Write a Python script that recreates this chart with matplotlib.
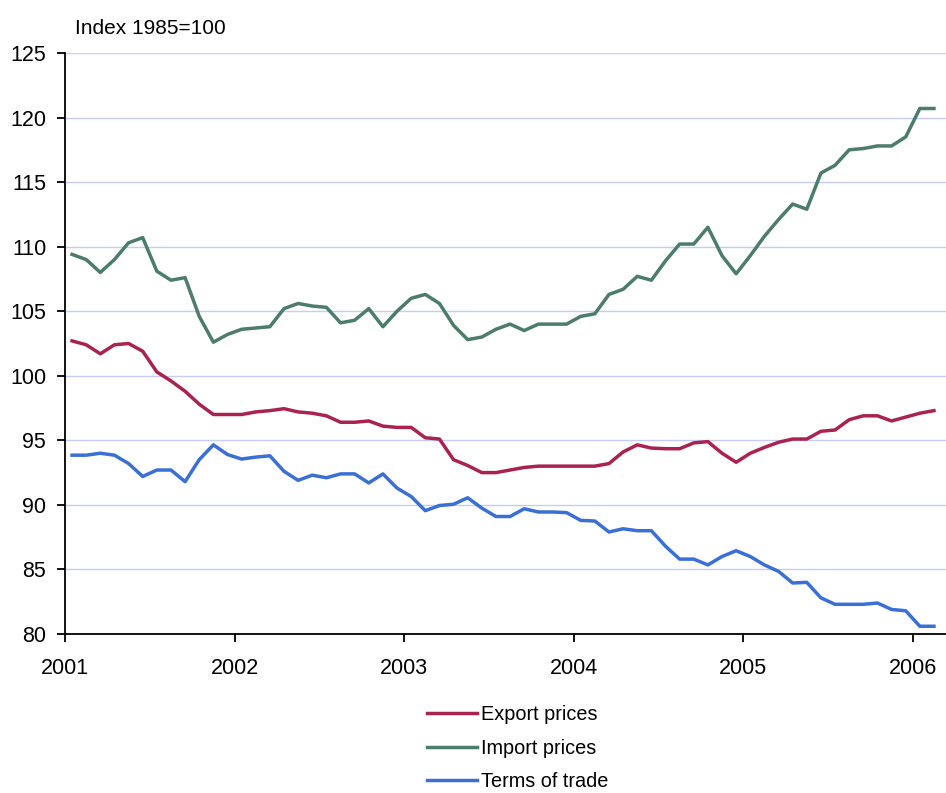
import matplotlib.pyplot as plt
import numpy as np

plt.rcParams['font.family'] = ['Liberation Sans', 'DejaVu Sans']

# monthly index values, Jan 2001 - Feb 2006
export_prices = [102.7, 102.4, 101.7, 102.4, 102.5, 101.9, 100.3, 99.6, 98.8, 97.8, 97.0, 97.0,
                 97.0, 97.2, 97.3, 97.45, 97.2, 97.1, 96.9, 96.4, 96.4, 96.5, 96.1, 96.0,
                 96.0, 95.2, 95.1, 93.5, 93.05, 92.5, 92.5, 92.7, 92.9, 93.0, 93.0, 93.0,
                 93.0, 93.0, 93.2, 94.1, 94.65, 94.4, 94.35, 94.35, 94.8, 94.9, 94.0, 93.3,
                 94.0, 94.45, 94.85, 95.1, 95.1, 95.7, 95.8, 96.6, 96.9, 96.9, 96.5, 96.8,
                 97.1, 97.3]
import_prices = [109.4, 109.0, 108.0, 109.0, 110.3, 110.7, 108.1, 107.4, 107.6, 104.6, 102.6, 103.2,
                 103.6, 103.7, 103.8, 105.2, 105.6, 105.4, 105.3, 104.1, 104.3, 105.2, 103.8, 105.0,
                 106.0, 106.3, 105.6, 103.9, 102.8, 103.0, 103.6, 104.0, 103.5, 104.0, 104.0, 104.0,
                 104.6, 104.8, 106.3, 106.7, 107.7, 107.4, 108.9, 110.2, 110.2, 111.5, 109.3, 107.9,
                 109.3, 110.8, 112.1, 113.3, 112.9, 115.7, 116.3, 117.5, 117.6, 117.8, 117.8, 118.5,
                 120.7, 120.7]
terms_of_trade = [93.85, 93.85, 94.0, 93.85, 93.2, 92.2, 92.7, 92.7, 91.8, 93.5, 94.65, 93.9,
                  93.55, 93.7, 93.8, 92.6, 91.9, 92.3, 92.1, 92.4, 92.4, 91.7, 92.4, 91.3,
                  90.65, 89.55, 89.95, 90.05, 90.55, 89.75, 89.1, 89.1, 89.7, 89.45, 89.45, 89.4,
                  88.8, 88.75, 87.9, 88.15, 88.0, 88.0, 86.8, 85.8, 85.8, 85.35, 86.0, 86.45,
                  86.0, 85.35, 84.85, 83.95, 84.0, 82.8, 82.3, 82.3, 82.3, 82.4, 81.9, 81.8,
                  80.6, 80.6]
years = ['2001', '2002', '2003', '2004', '2005', '2006']
yticks = [80, 85, 90, 95, 100, 105, 110, 115, 120, 125]

months = np.arange(len(export_prices)) + 0.5

fig = plt.figure(figsize=(9.46, 7.93), dpi=100)
ax = fig.add_axes([0.0687, 0.2005, 0.935, 0.7327])

ax.plot(months, export_prices, color='#AA2350', lw=2.5, label='Export prices')
ax.plot(months, import_prices, color='#4C7C6A', lw=2.5, label='Import prices')
ax.plot(months, terms_of_trade, color='#3A6FD6', lw=2.5, label='Terms of trade')

ax.set_xlim(0, 62.6)
ax.set_ylim(80, 125)
ax.set_yticks(yticks)
ax.set_xticks(np.arange(len(years)) * 12)
ax.set_xticklabels(years)
ax.grid(axis='y', color='#C5CEF2', lw=1.0)
ax.set_axisbelow(True)

for s in ['top', 'right']:
    ax.spines[s].set_visible(False)
for s in ['left', 'bottom']:
    ax.spines[s].set_linewidth(1.3)
ax.tick_params(axis='both', direction='out', length=5.5, width=1.3, labelsize=15.5, colors='black')
ax.tick_params(axis='y', pad=8)
ax.tick_params(axis='x', pad=12)

fig.text(0.079, 0.964, 'Index 1985=100', fontsize=15, va='center', ha='left')

fig.legend(loc='upper left', bbox_to_anchor=(0.451, 0.111), frameon=False, fontsize=14.3,
           handlelength=2.55, handletextpad=0.2, labelspacing=0.74, borderpad=0, borderaxespad=0)

plt.savefig('out.png', dpi=100)
